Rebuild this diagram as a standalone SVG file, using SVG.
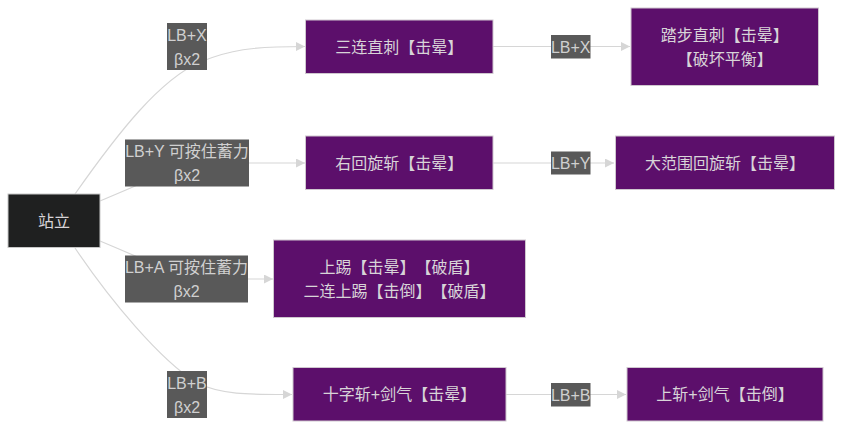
<svg xmlns="http://www.w3.org/2000/svg" width="843" height="430" viewBox="0 0 843 430">
<defs>
<style>
.edge{fill:none;stroke:#d6d6d6;stroke-width:1.2}
.node rect{stroke:#cfc7cf;stroke-width:1}
.purple rect{fill:#5c0f6b}
.start rect{fill:#1f2020;stroke:#c8c8c8}
.node text{font-family:"Liberation Sans","Noto Sans CJK SC",sans-serif;font-size:16px;fill:#d8d4d8;text-anchor:middle;text-spacing-trim:space-all}
.lbl rect{fill:#595959}
.lbl text{font-family:"Liberation Sans","Noto Sans CJK SC",sans-serif;font-size:16px;fill:#d0d0d0;text-anchor:middle;text-spacing-trim:space-all}
</style>
<marker id="arr" viewBox="0 0 10 10" refX="10" refY="5" markerWidth="9" markerHeight="9" markerUnits="userSpaceOnUse" orient="auto">
<path d="M0,0 L10,5 L0,10 z" fill="#d6d6d6"/>
</marker>
</defs>
<rect width="843" height="430" fill="#ffffff"/>
<g id="connectors">
<path class="edge" d="M75,194 C120,130 160,80 200,62 C230,50 250,46.5 305,46.5" marker-end="url(#arr)"/>
<path class="edge" d="M100,201 Q150,180 187,163 L305,163" marker-end="url(#arr)"/>
<path class="edge" d="M100,241 Q150,262 187,279 L273,279" marker-end="url(#arr)"/>
<path class="edge" d="M75,248 C110,300 160,360 197,383 C222,395 250,394.5 292,394.5" marker-end="url(#arr)"/>
<path class="edge" d="M493,46.5 L630,46.5" marker-end="url(#arr)"/>
<path class="edge" d="M493,163 L614,163" marker-end="url(#arr)"/>
<path class="edge" d="M506,394.5 L626,394.5" marker-end="url(#arr)"/>
<g class="lbl" id="lbl1"><rect x="167" y="23" width="40" height="47"/><text x="187" y="40.5">LB+X</text><text x="187" y="64.5">βx2</text></g>
<g class="lbl" id="lbl2"><rect x="125" y="139.5" width="124" height="47"/><text x="187" y="157">LB+Y 可按住蓄力</text><text x="187" y="181">βx2</text></g>
<g class="lbl" id="lbl3"><rect x="125" y="255.5" width="123" height="47"/><text x="186.5" y="273">LB+A 可按住蓄力</text><text x="186.5" y="297">βx2</text></g>
<g class="lbl" id="lbl4"><rect x="167" y="371" width="40" height="47"/><text x="187" y="388.5">LB+B</text><text x="187" y="412.5">βx2</text></g>
<g class="lbl" id="lbl5"><rect x="551" y="35" width="39.5" height="23.5"/><text x="570.7" y="52.5">LB+X</text></g>
<g class="lbl" id="lbl6"><rect x="551" y="151.5" width="39.5" height="23"/><text x="570.7" y="168.5">LB+Y</text></g>
<g class="lbl" id="lbl7"><rect x="551" y="383" width="39.5" height="23.5"/><text x="570.7" y="400.5">LB+B</text></g>
</g>
<g class="node start" id="stand"><rect x="8" y="194" width="92" height="53.5"/><text x="54" y="226.5">站立</text></g>
<g class="node purple" id="n1"><rect x="305.5" y="20" width="187.5" height="53.5"/><text x="399.2" y="52.5">三连直刺【击晕】</text></g>
<g class="node purple" id="n2"><rect x="631" y="8" width="187.5" height="77.5"/><text x="724.7" y="40.5">踏步直刺【击晕】</text><text x="724.7" y="64.5">【破坏平衡】</text></g>
<g class="node purple" id="n3"><rect x="305.5" y="136" width="187.5" height="53.5"/><text x="399.2" y="168.5">右回旋斩【击晕】</text></g>
<g class="node purple" id="n4"><rect x="615.5" y="136" width="219" height="53.5"/><text x="725" y="168.5">大范围回旋斩【击晕】</text></g>
<g class="node purple" id="n5"><rect x="273.5" y="240" width="252" height="77.5"/><text x="399.5" y="272.5">上踢【击晕】【破盾】</text><text x="399.5" y="296.5">二连上踢【击倒】【破盾】</text></g>
<g class="node purple" id="n6"><rect x="293" y="367.5" width="213" height="53.5"/><text x="399.5" y="400">十字斩+剑气【击晕】</text></g>
<g class="node purple" id="n7"><rect x="627" y="367.5" width="196" height="53.5"/><text x="725" y="400">上斩+剑气【击倒】</text></g>
</svg>
